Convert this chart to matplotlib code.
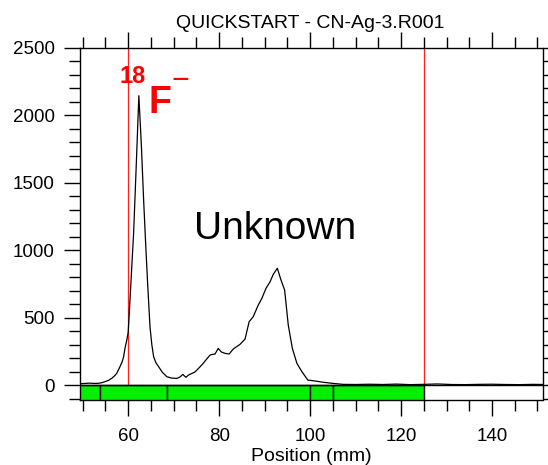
import matplotlib
matplotlib.use("Agg")
import matplotlib.pyplot as plt
from matplotlib.ticker import MultipleLocator
import numpy as np

plt.rcParams['font.family'] = ['Liberation Sans', 'DejaVu Sans']

# Radio-TLC scan: counts versus position along the plate
position_mm = [49.5, 50.5, 51.5, 52.5, 53.5, 54.3, 54.9, 55.7, 56.4, 57.0,
               57.5, 58.2, 58.7, 59.0, 59.3, 59.7, 60.0, 60.4, 60.8, 61.2,
               61.8, 62.35, 62.9, 63.4, 63.9, 64.3, 64.8, 65.2, 65.6, 66.1,
               66.7, 67.5, 68.5, 69.5, 70.7, 71.4, 72.0, 72.7, 73.3, 74.0,
               74.6, 75.1, 75.8, 76.5, 77.2, 78.0, 78.6, 79.1, 79.8, 80.5,
               81.3, 82.2, 83.1, 84.6, 85.7, 86.6, 87.5, 88.6, 89.4, 90.3,
               91.2, 91.9, 92.8, 93.6, 94.4, 95.2, 96.1, 97.1, 98.2, 99.5,
               101.1, 103.0, 105.1, 107.3, 110.0, 113.0, 116.0, 119.0, 122.0, 125.0,
               128.0, 131.0, 134.0, 137.0, 140.0, 143.0, 146.0, 149.0, 151.5]
counts = [10, 12, 14, 12, 13, 18, 25, 35, 50, 68,
          87, 136, 175, 210, 272, 334, 390, 630, 880, 1127,
          1650, 2146, 1780, 1372, 1010, 740, 432, 300, 210, 165,
          136, 95, 62, 52, 49, 60, 79, 57, 75, 86,
          95, 111, 135, 161, 190, 222, 228, 230, 272, 245,
          235, 230, 267, 302, 341, 470, 507, 593, 643, 717,
          766, 821, 866, 779, 705, 445, 272, 161, 99, 37,
          30, 20, 12, 5, 4, 6, 4, 7, 3, 5,
          8, 4, 3, 5, 6, 4, 3, 5, 4]

# Region-of-interest segments shown in the strip under the baseline
segment_edges = [49.3, 53.8, 68.5, 100.0, 105.0, 125.0]
# Integration limits (red markers)
marker_positions = [60.0, 125.0]

x_limits = (49.3, 151.1)
y_limits = (-111, 2500)

fig = plt.figure(figsize=(5.48, 4.65), dpi=100)
ax = fig.add_axes([79.5 / 548, 1 - 400 / 465, 463 / 548, 352 / 465])
ax.set_xlim(*x_limits)
ax.set_ylim(*y_limits)

# Strip of region segments
lefts = np.array(segment_edges[:-1])
widths = np.diff(segment_edges)
ax.bar(lefts, -y_limits[0], width=widths, bottom=y_limits[0], align='edge',
       color='#00f000', edgecolor='black', linewidth=1.0, zorder=3)
ax.axhline(0, color='black', linewidth=1.0, zorder=3)

# Marker lines
ax.vlines(marker_positions, 0, y_limits[1], colors='#ff2020', linewidth=0.9, zorder=2)

# Scan trace
ax.plot(position_mm, counts, color='black', linewidth=0.9, zorder=4)

# Annotations
ax.text(58.2, 2240, '18', color='red', fontsize=17, fontweight='bold',
        ha='left', va='baseline')
ax.text(64.4, 2015, 'F', color='red', fontsize=27, fontweight='bold',
        ha='left', va='baseline')
ax.text(71.4, 2195, '\u2212', color='red', fontsize=22,
        ha='center', va='baseline')
ax.text(74.5, 1081, 'Unknown', color='black', fontsize=28,
        ha='left', va='baseline')

# Axes styling
ax.xaxis.set_major_locator(MultipleLocator(20))
ax.xaxis.set_minor_locator(MultipleLocator(5))
ax.yaxis.set_major_locator(MultipleLocator(500))
ax.yaxis.set_minor_locator(MultipleLocator(100))
ax.tick_params(which='both', direction='out', top=True, right=True,
               color='black', width=1.0, labelsize=13.5)
ax.tick_params(which='major', length=11.5)
ax.tick_params(which='minor', length=8)
ax.tick_params(axis='x', which='major', pad=8.5)
ax.tick_params(axis='y', which='major', pad=6.5)
for spine in ax.spines.values():
    spine.set_linewidth(1.0)

ax.set_xlabel('Position (mm)', fontsize=14, labelpad=2)
fig.text(310 / 548, 1 - 28 / 465, 'QUICKSTART - CN-Ag-3.R001', fontsize=14,
         ha='center', va='baseline')

fig.savefig('out.png', dpi=100)
